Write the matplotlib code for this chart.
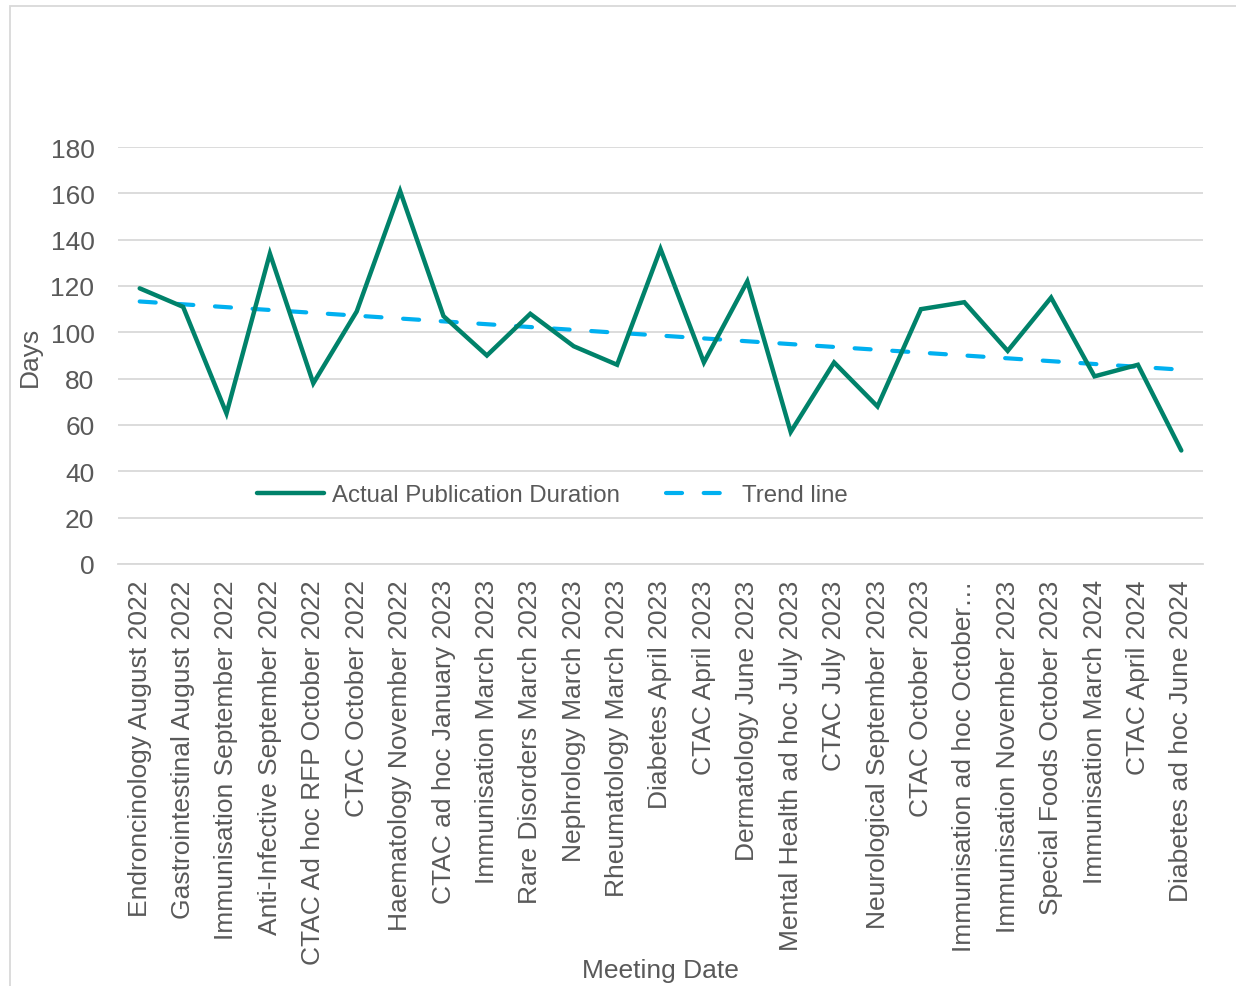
import numpy as np
import matplotlib
matplotlib.use("Agg")
import matplotlib.pyplot as plt
from matplotlib.patches import Rectangle

plt.rcParams['font.family'] = ['Liberation Sans', 'DejaVu Sans']

meetings = [
    "Endroncinology August 2022",
    "Gastrointestinal August 2022",
    "Immunisation September 2022",
    "Anti-Infective September 2022",
    "CTAC Ad hoc RFP October 2022",
    "CTAC October 2022",
    "Haematology November 2022",
    "CTAC ad hoc January 2023",
    "Immunisation March 2023",
    "Rare Disorders March 2023",
    "Nephrology March 2023",
    "Rheumatology March 2023",
    "Diabetes April 2023",
    "CTAC April 2023",
    "Dermatology June 2023",
    "Mental Health ad hoc July 2023",
    "CTAC July 2023",
    "Neurological September 2023",
    "CTAC October 2023",
    "Immunisation ad hoc October\u2026",
    "Immunisation November 2023",
    "Special Foods October 2023",
    "Immunisation March 2024",
    "CTAC April 2024",
    "Diabetes ad hoc June 2024",
]
duration_days = [119, 111, 65, 134, 78, 109, 161, 107, 90, 108, 94, 86, 136,
                 87, 122, 57, 87, 68, 110, 113, 92, 115, 81, 86, 49]
y_ticks = [0, 20, 40, 60, 80, 100, 120, 140, 160, 180]

TEXT = "#595959"
GREEN = "#00826A"
BLUE = "#00B0F0"
GRID = "#D9D9D9"
FS = 19
FS_LEGEND = 17.3

W, H = 1236, 987
fig = plt.figure(figsize=(W / 100, H / 100), dpi=100)
# chart-area border: left and top edges visible, the rest runs off the canvas
fig.patches.append(Rectangle((10 / W, -0.05), 1.1, 1.05 - 7 / H,
                             transform=fig.transFigure, fill=False,
                             edgecolor=GRID, linewidth=1.3))

ax_l, ax_r, ax_t, ax_b = 118, 1203, 148, 565
ax = fig.add_axes([ax_l / W, 1 - ax_b / H, (ax_r - ax_l) / W, (ax_b - ax_t) / H])

x = np.arange(len(meetings))
y = np.array(duration_days, dtype=float)
slope, intercept = np.polyfit(x, y, 1)
trend = slope * x + intercept

ax.plot(x, y, color=GREEN, linewidth=3.2, solid_joinstyle='miter',
        solid_capstyle='round', label="Actual Publication Duration", zorder=3)
ax.plot(x, trend, color=BLUE, linewidth=3.0, linestyle=(0, (3.85, 5.2)),
        dash_capstyle='round', label="Trend line", zorder=2)

ax.set_xlim(-0.5, len(meetings) - 0.5)
ax.set_ylim(0, 180)
ax.set_yticks(y_ticks)
ax.set_xticks(x)
ax.set_xticklabels(meetings, rotation=90, ha='center', va='top')
ax.tick_params(axis='both', length=0, labelsize=FS, labelcolor=TEXT)
ax.tick_params(axis='x', pad=11)
ax.tick_params(axis='y', pad=17)
ax.grid(axis='y', color=GRID, linewidth=1.3)
ax.set_axisbelow(True)
for side in ['top', 'right', 'left']:
    ax.spines[side].set_visible(False)
ax.spines['bottom'].set_color(GRID)
ax.spines['bottom'].set_linewidth(1.3)

aw, ah = ax_r - ax_l, ax_b - ax_t
ax.set_ylabel("Days", fontsize=FS, color=TEXT)
ax.set_xlabel("Meeting Date", fontsize=FS, color=TEXT)
ax.xaxis.set_label_coords(0.5, -(959 - ax_b) / ah)
ax.yaxis.set_label_coords((42 - ax_l) / aw, 0.5)

ax.legend(loc='center', bbox_to_anchor=((552 - ax_l) / aw, (ax_b - 496) / ah),
          ncol=2, frameon=False, fontsize=FS_LEGEND, handlelength=2.8,
          handletextpad=0.35, columnspacing=1.9, labelcolor=TEXT)

fig.savefig("out.png", dpi=100)
